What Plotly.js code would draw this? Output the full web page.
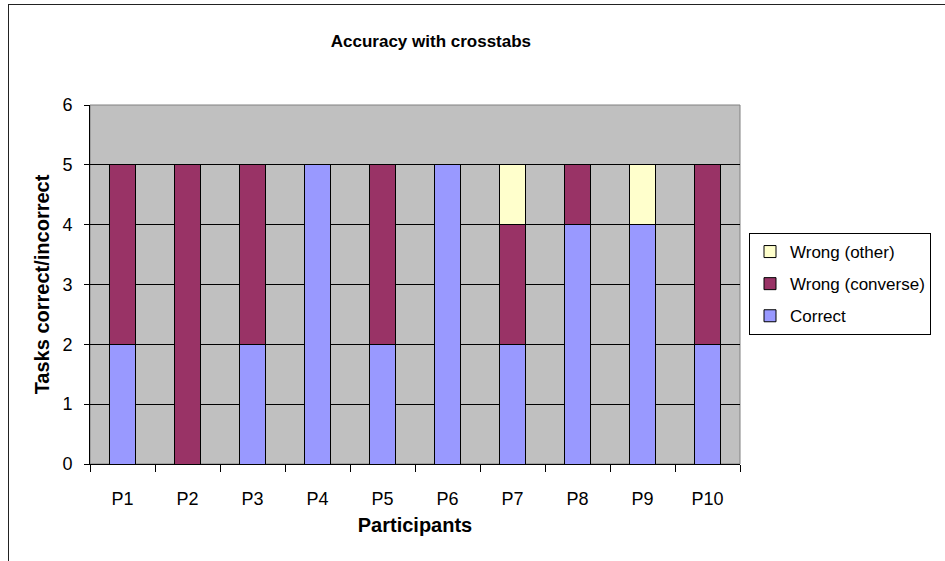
<!DOCTYPE html>
<html><head><meta charset="utf-8">
<script src="https://cdn.plot.ly/plotly-3.0.1.min.js"></script>
<style>body{margin:0;background:#fff;} #wrap{position:relative;width:945px;height:561px;overflow:hidden;} #border{position:absolute;left:8px;top:4px;width:1000px;height:1000px;border-left:1px solid #222;border-top:1px solid #222;pointer-events:none;}</style>
</head><body>
<div id="wrap"><div id="chart" style="width:945px;height:561px;"></div><div id="border"></div></div>
<script>
const participants = ['P1','P2','P3','P4','P5','P6','P7','P8','P9','P10'];
const correct = [2,0,2,5,2,5,2,4,4,2];
const wrongConverse = [3,5,3,0,3,0,2,1,0,3];
const wrongOther = [0,0,0,0,0,0,1,0,1,0];

const mk = (name, y, color, rank) => ({
  type:'bar', name:name, x:participants, y:y, legendgroup:name, legendrank:rank,
  marker:{color:color, line:{color:'#000', width:1}},
  hoverinfo:'x+y+name'
});
const data = [
  mk('Correct', correct, '#9999FF', 3),
  mk('Wrong (converse)', wrongConverse, '#993366', 2),
  mk('Wrong (other)', wrongOther, '#FFFFCC', 1)
];
const f = 'Liberation Sans, Arial, sans-serif';
const layout = {
  width:945, height:561,
  margin:{l:90, r:205, t:105, b:97, autoexpand:false},
  paper_bgcolor:'#fff', plot_bgcolor:'#C0C0C0',
  barmode:'stack', bargap:0.6,
  font:{family:f, size:18, color:'#000'},
  title:{text:'<b>Accuracy with crosstabs</b>', font:{family:f, size:17, color:'#000'}, x:0.456, xref:'container', xanchor:'center', y:0.927, yref:'container', yanchor:'middle'},
  xaxis:{type:'category', tickson:'boundaries', ticks:'outside', ticklen:7, tickcolor:'#000',
         showline:true, linecolor:'#000', linewidth:1, showgrid:false, ticklabelstandoff:18,
         tickfont:{size:18}, title:{text:'<b>Participants</b>', font:{size:20}, standoff:10}},
  yaxis:{range:[0,6], dtick:1, ticks:'outside', ticklen:5, tickcolor:'#000',
         showline:true, linecolor:'#000', linewidth:1, showgrid:true, gridcolor:'#000', gridwidth:1,
         zeroline:false, tickfont:{size:18}, ticklabelstandoff:8,
         title:{text:'<b>Tasks correct/incorrect</b>', font:{size:20}, standoff:7}},
  legend:{x:749/945, xref:'container', xanchor:'left', y:1-233/561, yref:'container', yanchor:'top', traceorder:'grouped',
          bgcolor:'#fff', bordercolor:'#000', borderwidth:1, font:{size:17}, itemwidth:30, tracegroupgap:7},
  shapes:[{type:'rect', xref:'paper', yref:'paper', x0:0, x1:1, y0:0, y1:1, line:{color:'#808080', width:1}, layer:'below'}],
  showlegend:true
};
Plotly.newPlot('chart', data, layout, {displayModeBar:false, staticPlot:true});
</script>
</body></html>
